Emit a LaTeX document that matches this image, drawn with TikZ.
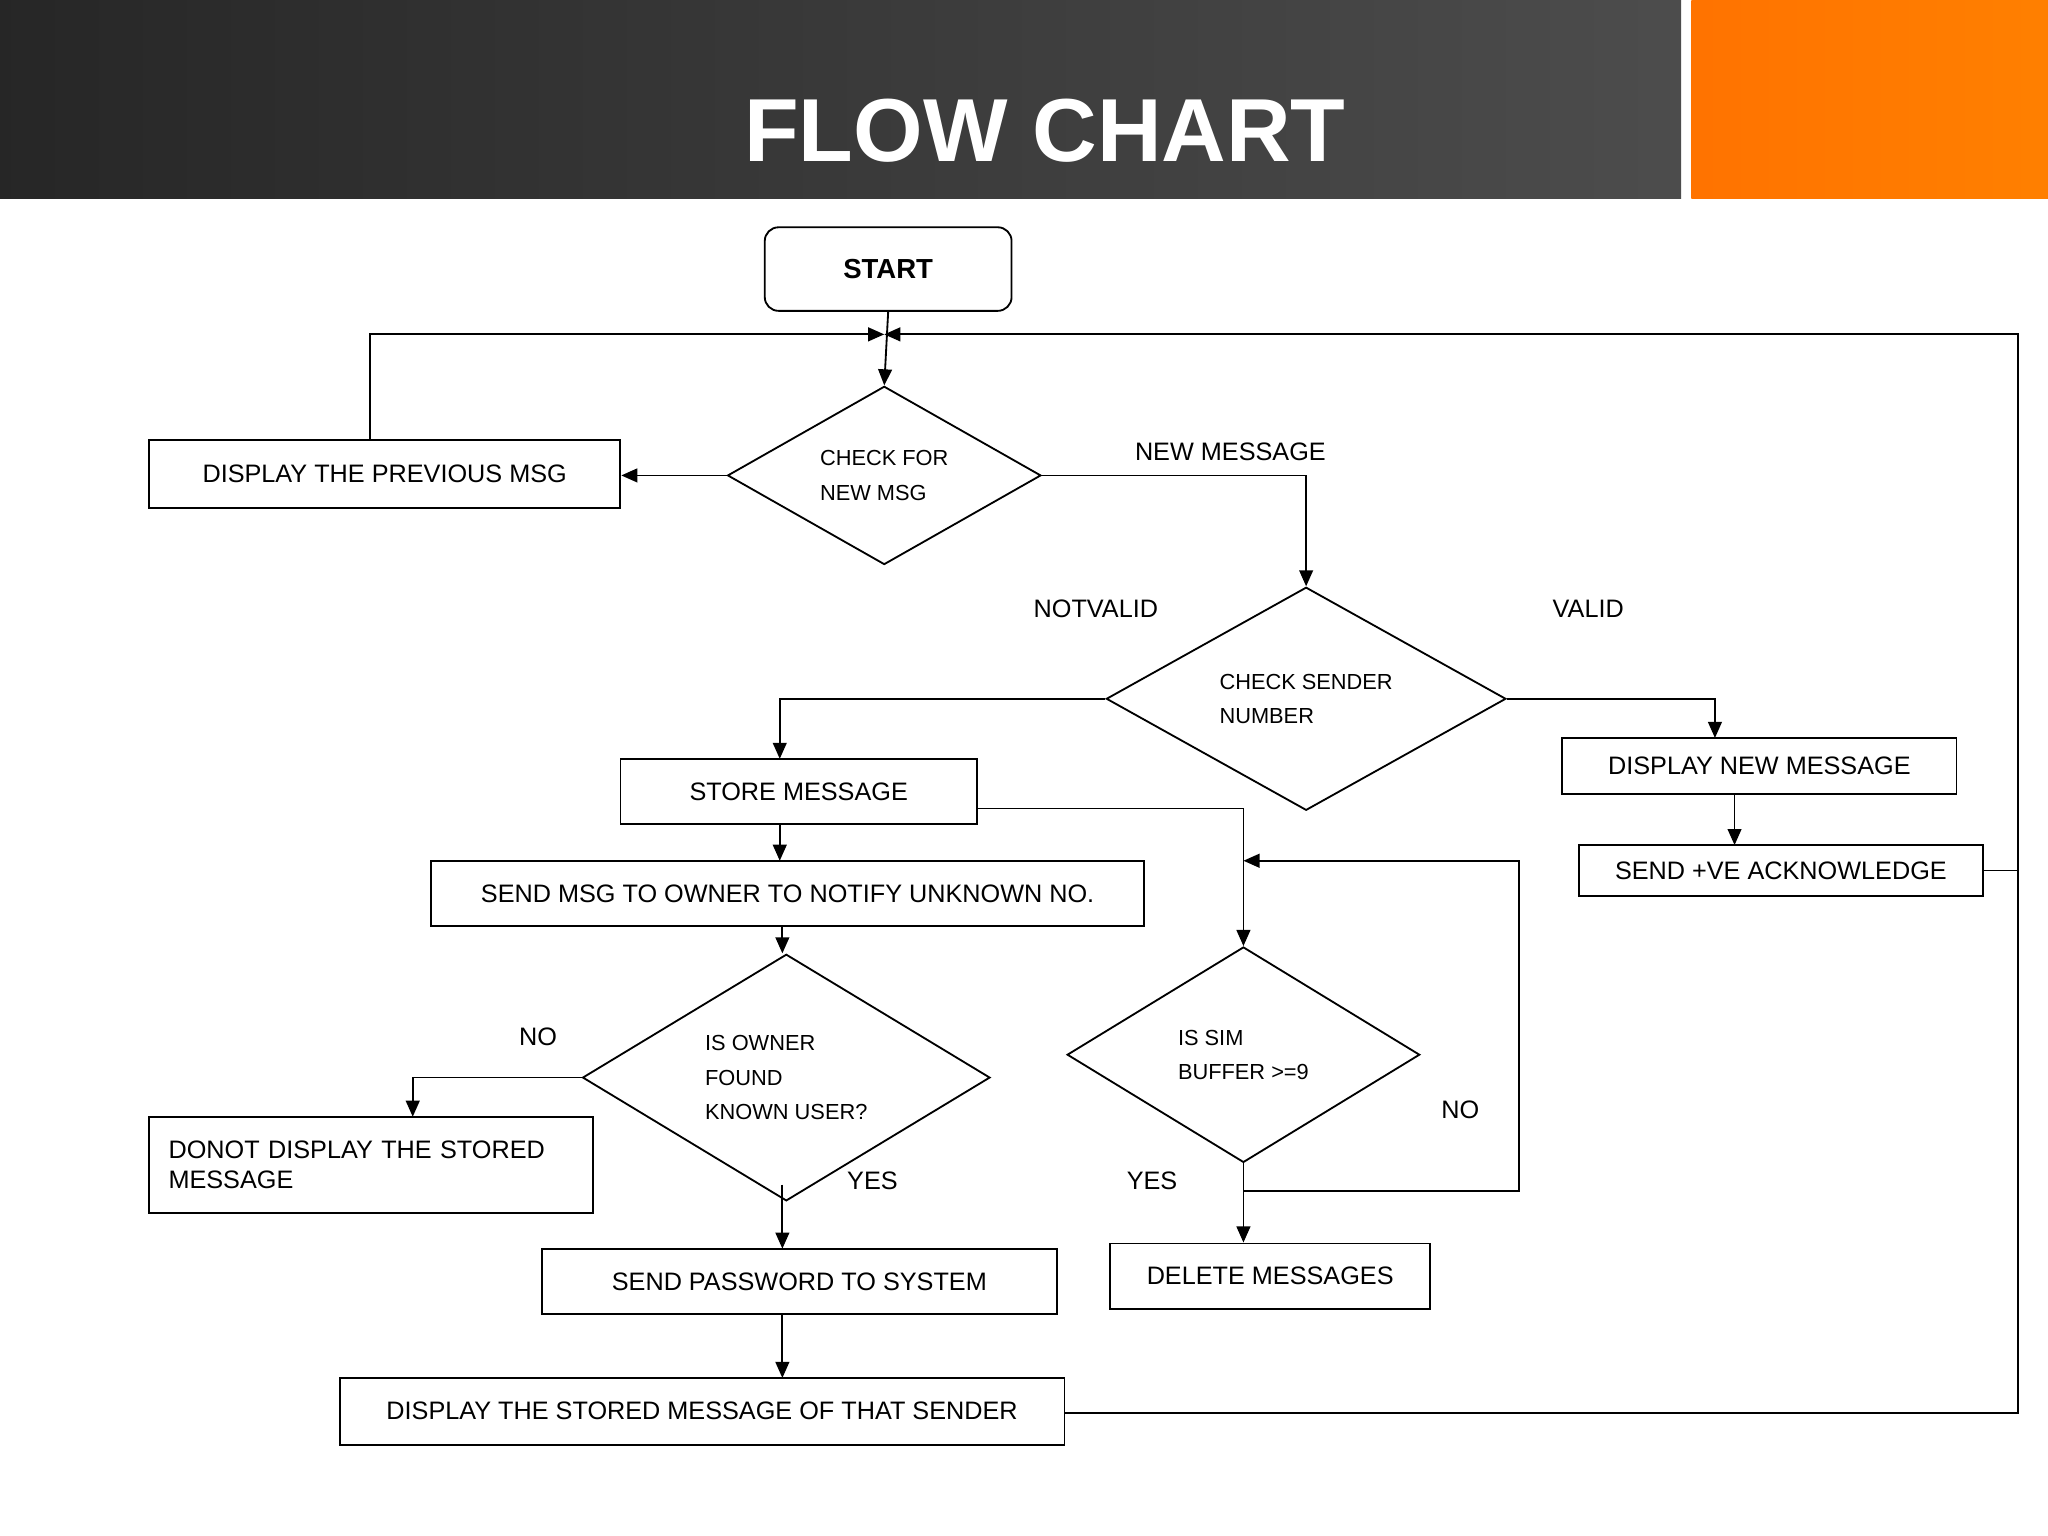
\documentclass[tikz,border=0pt]{standalone}
\usepackage{fontspec}
\setmainfont{Liberation Sans}
\usetikzlibrary{shapes.geometric,arrows.meta}
\begin{document}
\begin{tikzpicture}[x=0.02cm,y=-0.02cm,
 box/.style={draw,thick,rectangle,inner sep=0pt,font=\fontsize{11}{13}\selectfont},
 dia/.style={draw,thick,diamond,inner sep=0pt,font=\fontsize{9.5}{15}\selectfont,align=left},
 lbl/.style={font=\fontsize{11}{13}\selectfont},
 ar/.style={thick,-{Triangle[length=7pt,width=6pt]}},
 ln/.style={thick}]
\useasboundingbox (0,0) rectangle (1568,1176);
\fill[white] (0,0) rectangle (1568,1176);
\shade[left color=black!85,right color=black!70] (0,0) rectangle (1287,152);
\shade[left color=orange!90!red,right color=orange] (1295,0) rectangle (1568,152);
\node[white,font=\fontsize{39}{42}\selectfont\bfseries] (title) at (800,100) {FLOW CHART};
% nodes
\node[box,rounded corners=6pt,minimum width=3.78cm,minimum height=1.28cm,font=\fontsize{12}{14}\selectfont\bfseries] (start) at (680,206) {START};
\coordinate (m) at (677,256);
\node[dia,minimum width=4.8cm,minimum height=2.64cm] (d1) at (677,364) {CHECK FOR\\NEW MSG};
\node[box,minimum width=7.22cm,minimum height=1.04cm] (prev) at (294.5,363) {DISPLAY THE PREVIOUS MSG};
\node[dia,minimum width=6.12cm,minimum height=3.38cm] (d2) at (1000,535) {CHECK SENDER\\NUMBER};
\node[box,minimum width=5.46cm,minimum height=1.0cm] (store) at (611.5,606) {STORE MESSAGE};
\node[box,minimum width=6.04cm,minimum height=0.86cm] (dnew) at (1347,586.5) {DISPLAY NEW MESSAGE};
\node[box,minimum width=6.18cm,minimum height=0.78cm] (ack) at (1363.5,666.5) {SEND +VE ACKNOWLEDGE};
\node[box,minimum width=10.92cm,minimum height=1.0cm] (send) at (603,684) {SEND MSG TO OWNER TO NOTIFY UNKNOWN NO.};
\node[dia,minimum width=5.4cm,minimum height=3.3cm] (d3) at (952,807.5) {IS SIM\\BUFFER >=9};
\node[box,minimum width=4.9cm,minimum height=1.0cm] (del) at (972.5,977) {DELETE MESSAGES};
\node[dia,minimum width=6.24cm,minimum height=3.3cm] (d4) at (602,825) {IS OWNER\\FOUND\\KNOWN USER?};
\node[box,minimum width=6.8cm,minimum height=1.48cm,align=left,text width=6.2cm] (dont) at (284,892) {DONOT DISPLAY THE STORED\\MESSAGE};
\node[box,minimum width=7.88cm,minimum height=1.0cm] (pw) at (612,981) {SEND PASSWORD TO SYSTEM};
\node[box,minimum width=11.1cm,minimum height=1.02cm] (disp) at (537.5,1080.5) {DISPLAY THE STORED MESSAGE OF THAT SENDER};
% labels
\node[lbl] (l1) at (942,346) {NEW MESSAGE};
\node[lbl] (l2) at (839,466) {NOTVALID};
\node[lbl] (l3) at (1216,466) {VALID};
\node[lbl] (l4) at (1118,850) {NO};
\node[lbl] (l5) at (882,904) {YES};
\node[lbl] (l6) at (412,794) {NO};
\node[lbl] (l7) at (668,904) {YES};
% connectors
\draw[ar] (start.south) -- (d1.north);
\draw[ar] (prev.north -| 283,0) |- (m);
\draw[ar] (ack.east) -| (1545,256) -- (m);
\draw[ln] (disp.east |- 0,1082) -| (1545,659);
\draw[ar] (d1.west) -- (prev.east |- d1.west);
\draw[ar] (d1.east) -| (d2.north);
\draw[ar] (d2.west) -| (597,581);
\draw[ar] (d2.east) -| (1313,565);
\draw[ar] (1328,608) -- (1328,647);
\draw[ar] (597,631) -- (597,659);
\draw[ar] (748,619) -| (d3.north);
\draw[ar] (d3.south) -- (del.north -| d3.south);
\draw[ar] (952,912) -| (1163,659) -- (952,659);
\draw[ar] (599,709) -- (d4.north -| 599,0);
\draw[ar] (d4.west) -| (316,855);
\draw[ar] (599,907) -- (599,956);
\draw[ar] (599,1006) -- (599,1055);
\end{tikzpicture}
\end{document}
